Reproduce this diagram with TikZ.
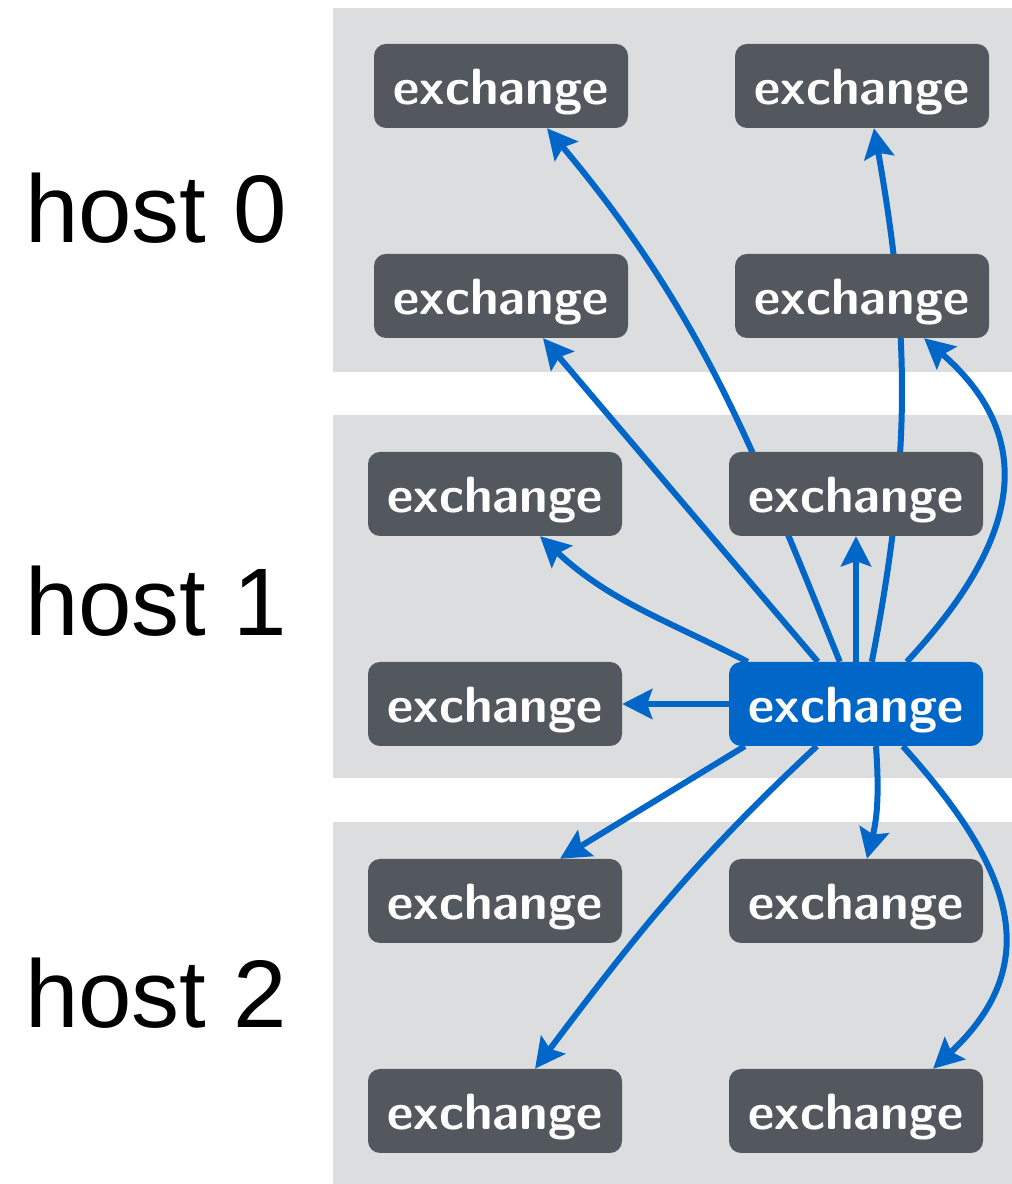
\documentclass[tikz,border=0pt]{standalone}
\usepackage{fontspec}
\newfontfamily\hostfont{Liberation Sans}
\usetikzlibrary{arrows.meta}
\definecolor{panelgray}{HTML}{DCDDDF}
\definecolor{boxgray}{HTML}{53575E}
\definecolor{linkblue}{HTML}{0066C8}
\pgfdeclarelayer{panel}
\pgfdeclarelayer{links}
\pgfsetlayers{panel,links,main}
\tikzset{
  xbox/.style={fill=boxgray, rounded corners=12pt, minimum width=254pt,
    minimum height=84pt, inner sep=0pt, text=white,
    text height=46pt, text depth=8pt,
    font=\sffamily\bfseries\fontsize{51}{51}\selectfont},
  hotbox/.style={xbox, fill=linkblue},
  hostlabel/.style={anchor=base west, inner sep=0pt,
    font=\hostfont\fontsize{96}{96}\selectfont},
  link/.style={draw=linkblue, line width=6pt,
    -{Stealth[length=30pt,width=30pt,inset=5pt]}},
}
\begin{document}
\begin{tikzpicture}[x=1pt,y=1pt]
\useasboundingbox (0,0) rectangle (1012,1184);

% page background and host panels
\begin{pgfonlayer}{panel}
  \fill[white] (0,0) rectangle (1012,1184);
  \fill[panelgray] (333,812) rectangle (1012,1176);
  \fill[panelgray] (333,406) rectangle (1012,769);
  \fill[panelgray] (333,0) rectangle (1012,362);
\end{pgfonlayer}

% host labels
\node[hostlabel] (l0) at (25,941) {host 0};
\node[hostlabel] (l1) at (25,548) {host 1};
\node[hostlabel] (l2) at (25,156) {host 2};

% exchange operators
\node[xbox] (h0a) at (501,1098) {exchange};
\node[xbox] (h0b) at (862,1098) {exchange};
\node[xbox] (h0c) at (501,888) {exchange};
\node[xbox] (h0d) at (862,888) {exchange};
\node[xbox] (h1a) at (495,690) {exchange};
\node[xbox] (h1b) at (856,690) {exchange};
\node[xbox] (h1c) at (495,480) {exchange};
\node[hotbox] (src) at (856,480) {exchange};
\node[xbox] (h2a) at (495,283) {exchange};
\node[xbox] (h2b) at (856,283) {exchange};
\node[xbox] (h2c) at (495,73) {exchange};
\node[xbox] (h2d) at (856,73) {exchange};

% messages sent from the highlighted operator
\begin{pgfonlayer}{links}
  \draw[link] ([xshift=19pt]src.north west) to[out=153,in=-43] ([xshift=45pt]h1a.south);
  \draw[link] ([xshift=89pt]src.north west) -- ([xshift=42pt]h0c.south);
  \draw[link] ([xshift=111pt]src.north west) to[out=112,in=-50] ([xshift=46pt]h0a.south);
  \draw[link] (src.north) -- (h1b.south);
  \draw[link] ([xshift=143pt]src.north west) to[out=79,in=-80] ([xshift=12pt]h0b.south);
  \draw[link] ([xshift=178pt]src.north west) to[out=47,in=-41,looseness=1.25] ([xshift=62pt]h0d.south);
  \draw[link] (src.west) -- (h1c.east);
  \draw[link] ([xshift=16pt]src.south west) -- ([xshift=65pt]h2a.north);
  \draw[link] ([xshift=88pt]src.south west) to[out=-137,in=53] ([xshift=40pt]h2c.north);
  \draw[link] ([xshift=20pt]src.south) to[out=-86,in=76] ([xshift=11pt]h2b.north);
  \draw[link] ([xshift=174pt]src.south west) to[out=-48,in=43,looseness=1.25] ([xshift=77pt]h2d.north);
\end{pgfonlayer}
\end{tikzpicture}
\end{document}
